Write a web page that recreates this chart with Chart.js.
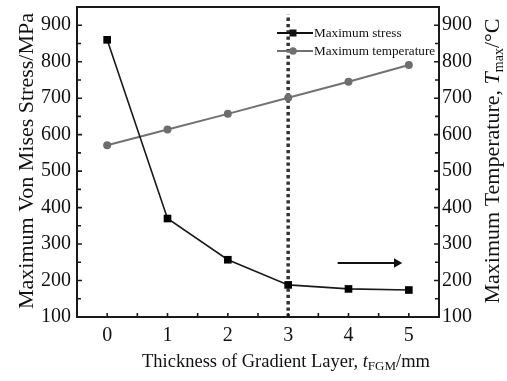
<!DOCTYPE html>
<html>
<head>
<meta charset="utf-8">
<script src="https://cdn.jsdelivr.net/npm/chart.js@4/dist/chart.umd.min.js"></script>
<style>
html,body{margin:0;padding:0;background:#fff;}
#wrap{width:507px;height:381px;position:relative;}
</style>
</head>
<body>
<div id="wrap"><canvas id="c" width="507" height="381"></canvas></div>
<script>
// ---- data ----
const thickness = [0, 1, 2, 3, 4, 5];
const maxStress = [860, 370, 257, 188, 177, 174];
const maxTemperature = [571, 614, 657, 701, 745, 791];
const xTicks = [0, 1, 2, 3, 4, 5];
const yTicks = [100, 200, 300, 400, 500, 600, 700, 800, 900];
const markerLineX = 3;
const arrowFrom = [3.82, 248];
const arrowTo = [4.8, 248];
const legendLabels = ['Maximum stress', 'Maximum temperature'];

const SERIF = '"Liberation Serif", "Times New Roman", serif';

function drawRich(ctx, parts, x, y) {
  let total = 0;
  parts.forEach(p => { ctx.font = p.font; p.w = ctx.measureText(p.text).width; total += p.w; });
  let cx = x - total / 2;
  ctx.textAlign = 'left';
  ctx.textBaseline = 'alphabetic';
  parts.forEach(p => { ctx.font = p.font; ctx.fillText(p.text, cx, y + (p.dy || 0)); cx += p.w; });
}

const decor = {
  id: 'decor',
  afterDatasetsDraw(chart) {
    const ctx = chart.ctx;
    const a = chart.chartArea;
    const xs = chart.scales.x, ys = chart.scales.y, y2 = chart.scales.y2;
    ctx.save();
    // frame
    ctx.strokeStyle = '#1a1a1a';
    ctx.lineWidth = 2;
    ctx.strokeRect(a.left, a.top, a.right - a.left, a.bottom - a.top);
    // inward ticks
    ctx.lineWidth = 1.6;
    ctx.beginPath();
    for (let v = 100; v <= 950; v += 50) {
      const len = (v % 100 === 0) ? 5 : 4;
      const py = ys.getPixelForValue(v);
      ctx.moveTo(a.left, py); ctx.lineTo(a.left + len, py);
      const py2 = y2.getPixelForValue(v);
      ctx.moveTo(a.right, py2); ctx.lineTo(a.right - len, py2);
    }
    for (let v = -0.5; v <= 5.5; v += 0.5) {
      const px = xs.getPixelForValue(v);
      ctx.moveTo(px, a.bottom); ctx.lineTo(px, a.bottom - 4);
    }
    ctx.stroke();

    // legend
    const lx0 = 277, lx1 = 313, mx = 293, tx = 314;
    const rows = [{y: 33, color: '#111', style: 'rect'}, {y: 51, color: '#707070', style: 'circle'}];
    rows.forEach((r, i) => {
      ctx.strokeStyle = r.color; ctx.fillStyle = r.color; ctx.lineWidth = 2;
      ctx.beginPath(); ctx.moveTo(lx0, r.y); ctx.lineTo(lx1, r.y); ctx.stroke();
      if (r.style === 'rect') { ctx.fillRect(mx - 3.5, r.y - 3.5, 7, 7); }
      else { ctx.beginPath(); ctx.arc(mx, r.y, 3.8, 0, Math.PI * 2); ctx.fill(); }
      ctx.fillStyle = '#111';
      ctx.font = '13.2px ' + SERIF;
      ctx.textAlign = 'left'; ctx.textBaseline = 'middle';
      ctx.fillText(legendLabels[i], tx, r.y + 1);
    });

    // axis titles
    ctx.fillStyle = '#111';
    drawRich(ctx, [
      {text: 'Thickness of Gradient Layer, ', font: '18.5px ' + SERIF},
      {text: 't', font: 'italic 18.5px ' + SERIF},
      {text: 'FGM', font: '13px ' + SERIF, dy: 3},
      {text: '/mm', font: '18.5px ' + SERIF}
    ], 286, 367);

    ctx.save();
    ctx.translate(33, 161);
    ctx.rotate(-Math.PI / 2);
    drawRich(ctx, [{text: 'Maximum Von Mises Stress/MPa', font: '22px ' + SERIF}], 0, 0);
    ctx.restore();

    ctx.save();
    ctx.translate(499, 161);
    ctx.rotate(-Math.PI / 2);
    drawRich(ctx, [
      {text: 'Maximum Temperature, ', font: '22px ' + SERIF},
      {text: 'T', font: 'italic 22px ' + SERIF},
      {text: 'max', font: '14px ' + SERIF, dy: 4},
      {text: '/\u00B0C', font: '22px ' + SERIF}
    ], 0, 0);
    ctx.restore();

    ctx.restore();
  }
};

const tickFont = {family: SERIF, size: 20};
function noPad(s) { s.paddingTop = 0; s.paddingBottom = 0; s.paddingLeft = 0; s.paddingRight = 0; }

new Chart(document.getElementById('c'), {
  type: 'line',
  data: {
    datasets: [
      {
        label: 'divider',
        data: [{x: markerLineX, y: 100}, {x: markerLineX, y: 930}],
        borderColor: '#333', borderWidth: 3.5, borderDash: [3.3, 3],
        pointRadius: 0, yAxisID: 'y', order: 3
      },
      {
        label: legendLabels[0],
        data: thickness.map((x, i) => ({x, y: maxStress[i]})),
        borderColor: '#1a1a1a', backgroundColor: '#000', borderWidth: 1.6,
        pointStyle: 'rect', pointRadius: 5.4, pointBorderWidth: 0,
        yAxisID: 'y', order: 1
      },
      {
        label: legendLabels[1],
        data: thickness.map((x, i) => ({x, y: maxTemperature[i]})),
        borderColor: '#727272', backgroundColor: '#6e6e6e', borderWidth: 2,
        pointStyle: 'circle', pointRadius: 4, pointBorderWidth: 0,
        yAxisID: 'y2', order: 2
      },
      {
        label: 'arrow',
        data: [{x: arrowFrom[0], y: arrowFrom[1]}, {x: arrowTo[0], y: arrowTo[1]}],
        borderColor: '#111', backgroundColor: '#111', borderWidth: 2,
        pointStyle: 'triangle', pointRotation: 90, pointRadius: [0, 5.5], pointBorderWidth: 0,
        yAxisID: 'y', order: 0
      }
    ]
  },
  options: {
    responsive: false,
    animation: false,
    events: [],
    layout: {padding: {top: 7, left: 0, right: 0, bottom: 0}},
    plugins: {legend: {display: false}, tooltip: {enabled: false}},
    scales: {
      x: {
        type: 'linear', min: -0.5, max: 5.5,
        afterBuildTicks: s => { s.ticks = xTicks.map(v => ({value: v})); },
        afterFit: s => { s.height = 64; noPad(s); },
        grid: {display: false, drawTicks: false},
        border: {display: false},
        ticks: {font: tickFont, color: '#111', padding: 7, maxRotation: 0}
      },
      y: {
        type: 'linear', position: 'left', min: 100, max: 950,
        afterBuildTicks: s => { s.ticks = yTicks.map(v => ({value: v})); },
        afterFit: s => { s.width = 77; noPad(s); },
        grid: {display: false, drawTicks: false},
        border: {display: false},
        ticks: {font: tickFont, color: '#111', padding: 6}
      },
      y2: {
        type: 'linear', position: 'right', min: 100, max: 950,
        afterBuildTicks: s => { s.ticks = yTicks.map(v => ({value: v})); },
        afterFit: s => { s.width = 68; noPad(s); },
        grid: {display: false, drawTicks: false},
        border: {display: false},
        ticks: {font: tickFont, color: '#111', padding: 3}
      }
    }
  },
  plugins: [decor]
});
</script>
</body>
</html>
